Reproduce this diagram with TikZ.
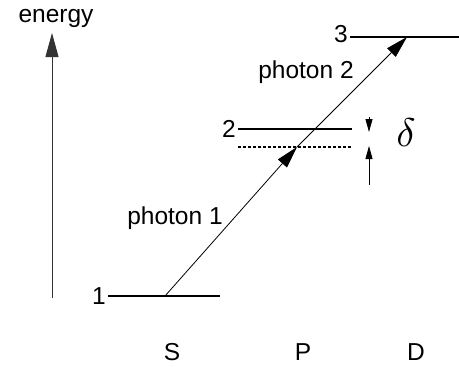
\documentclass[tikz,border=0pt]{standalone}
\usepackage{fontspec}
\setmainfont{Liberation Sans}
\usepackage{tikz}
\usetikzlibrary{arrows.meta}
\definecolor{axisgray}{HTML}{333333}

\begin{document}
\begin{tikzpicture}[x=1pt,y=-1pt,
    level/.style={line width=1.8pt},
    photon/.style={line width=.8pt,-{Triangle[length=22pt,width=12pt]}},
    gap/.style={line width=.9pt,-{Triangle[length=13pt,width=7pt]}},
    txt/.style={font=\fontsize{24.5}{28}\selectfont,inner sep=0pt}]
  \useasboundingbox (0,0) rectangle (459,367);

  % energy axis
  \coordinate (e0) at (52,298);
  \coordinate (e1) at (52,33);
  \draw[axisgray,line width=1pt,-{Triangle[length=24pt,width=13pt]}] (e0) -- (e1);
  \node[txt] (energy) at (56,18) {energy};

  % levels
  \draw[level] (108,296) coordinate (l1a) -- (220,296) coordinate (l1b);
  \draw[level] (238,129) coordinate (l2a) -- (352,129) coordinate (l2b);
  \draw[line width=1.4pt,dash pattern=on 3pt off 2pt] (238,147) coordinate (v0) -- (352,147) coordinate (v1);
  \draw[level] (350,37) coordinate (l3a) -- (459,37) coordinate (l3b);
  \node[txt,anchor=east] (n1) at ([xshift=-2pt]l1a) {1};
  \node[txt,anchor=east] (n2) at ([xshift=-2pt]l2a) {2};
  \node[txt,anchor=east] (n3) at ([xshift=-2pt,yshift=3pt]l3a) {3};

  % photons
  \coordinate (p0) at (165,296);
  \coordinate (p1) at (297,147);
  \coordinate (p2) at (407,37);
  \draw[photon] (p0) -- (p1);
  \draw[photon] (p1) -- (p2);
  \node[txt] (ph1) at (175,218) {photon 1};
  \node[txt] (ph2) at (306,72) {photon 2};

  % detuning
  \coordinate (d0) at (369,117);
  \coordinate (d1) at (369,132);
  \coordinate (d2) at (369,185);
  \coordinate (d3) at (369,146);
  \draw[gap] (d0) -- (d1);
  \draw[gap] (d2) -- (d3);
  \node[inner sep=0pt] (delta) at (406,133) {\scalebox{4}{$\delta$}};

  % orbital labels
  \node[txt] (S) at (172,352) {S};
  \node[txt] (P) at (303,352) {P};
  \node[txt] (D) at (416,352) {D};
\end{tikzpicture}
\end{document}
